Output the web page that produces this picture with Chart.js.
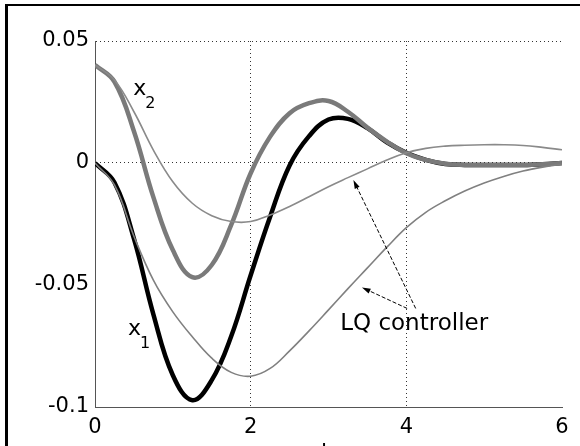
<!DOCTYPE html>
<html>
<head>
<meta charset="utf-8">
<script src="https://cdn.jsdelivr.net/npm/chart.js@4"></script>
<style>
  body { margin: 0; background: #fff; }
  #wrap { position: relative; width: 580px; height: 446px; }
  #frame { position: absolute; left: 5px; top: 4px; right: 0; bottom: 0;
           border-left: 3px solid #000; border-top: 2px solid #000; pointer-events: none; }
</style>
</head>
<body>
<div id="wrap">
  <canvas id="respChart"></canvas>
  <div id="frame"></div>
</div>
<script>
// time samples (s)
const timeSteps = [0, 0.25, 0.5, 0.75, 1, 1.25, 1.5, 1.75, 2, 2.25, 2.5, 2.75, 3,
                   3.25, 3.5, 3.75, 4, 4.25, 4.5, 4.75, 5, 5.25, 5.5, 5.75, 6];

// x1, thick black
const x1Values = [0, -0.008, -0.031, -0.062, -0.087, -0.0972, -0.089, -0.071, -0.046, -0.022,
                  -0.001, 0.011, 0.0178, 0.0181, 0.0143, 0.0085, 0.0042, 0.0013, -0.0004, -0.0008,
                  -0.0008, -0.0008, -0.0008, -0.0005, 0];
// x2, thick gray
const x2Values = [0.0402, 0.0333, 0.013, -0.014, -0.0357, -0.0468, -0.0418, -0.0254, -0.0042, 0.0108,
                  0.0204, 0.0245, 0.0254, 0.021, 0.0145, 0.0088, 0.004, 0.0013, -0.0003, -0.0008,
                  -0.0008, -0.0008, -0.0008, -0.0005, 0];
// LQ controller x1, thin gray
const lqX1Values = [0, -0.009, -0.030, -0.048, -0.061, -0.0712, -0.080, -0.0858, -0.0874, -0.0842,
                    -0.077, -0.0688, -0.0602, -0.0515, -0.043, -0.0345, -0.0265, -0.0202, -0.0155, -0.0115,
                    -0.0082, -0.0055, -0.0033, -0.0017, -0.0005];
// LQ controller x2, thin gray
const lqX2Values = [0.0402, 0.034, 0.021, 0.0053, -0.0077, -0.0165, -0.0216, -0.024, -0.024, -0.0213,
                    -0.0178, -0.0138, -0.0097, -0.006, -0.0024, 0.0012, 0.0042, 0.006, 0.0069, 0.0073,
                    0.0075, 0.0075, 0.0072, 0.0064, 0.0054];

const yTickLabels = { '-0.1': '-0.1', '-0.05': '-0.05', '0': '0', '0.05': '0.05' };
const xGridAt = [2, 4];
const yGridAt = [0, 0.05];

// annotation texts in data coordinates
const curveLabels = [
  { text: 'x', sub: '2', t: 0.49, v: 0.0279 },
  { text: 'x', sub: '1', t: 0.423, v: -0.0705 }
];
const noteText = { text: 'LQ controller', t: 3.15, v: -0.0684 };
const noteArrows = [
  { from: [4.12, -0.0596], to: [3.32, -0.007] },
  { from: [4.01, -0.0596], to: [3.43, -0.051] }
];
const axisTitle = { text: 't', t: 2.96 };

function toPoints(vals) {
  return timeSteps.map((t, i) => ({ x: t, y: vals[i] }));
}

function near(a, list) {
  return list.some(b => Math.abs(a - b) < 1e-9);
}

const FONT = '"DejaVu Sans", sans-serif';

const annotationsPlugin = {
  id: 'annotations',
  afterDatasetsDraw(chart) {
    const ctx = chart.ctx;
    const xs = chart.scales.x, ys = chart.scales.y;
    ctx.save();
    ctx.fillStyle = '#000';
    ctx.textBaseline = 'alphabetic';
    ctx.textAlign = 'left';

    curveLabels.forEach(l => {
      const px = xs.getPixelForValue(l.t), py = ys.getPixelForValue(l.v);
      ctx.font = '22px ' + FONT;
      ctx.fillText(l.text, px, py);
      ctx.font = '16px ' + FONT;
      ctx.fillText(l.sub, px + 12, py + 13);
    });

    ctx.font = '23px ' + FONT;
    ctx.fillText(noteText.text, xs.getPixelForValue(noteText.t), ys.getPixelForValue(noteText.v));

    ctx.strokeStyle = '#000';
    ctx.lineWidth = 1;
    noteArrows.forEach(a => {
      const x0 = xs.getPixelForValue(a.from[0]), y0 = ys.getPixelForValue(a.from[1]);
      const x1 = xs.getPixelForValue(a.to[0]), y1 = ys.getPixelForValue(a.to[1]);
      const ang = Math.atan2(y1 - y0, x1 - x0);
      ctx.setLineDash([4, 2]);
      ctx.beginPath();
      ctx.moveTo(x0, y0);
      ctx.lineTo(x1 - 6 * Math.cos(ang), y1 - 6 * Math.sin(ang));
      ctx.stroke();
      ctx.setLineDash([]);
      ctx.beginPath();
      ctx.moveTo(x1, y1);
      ctx.lineTo(x1 - 9 * Math.cos(ang - 0.3), y1 - 9 * Math.sin(ang - 0.3));
      ctx.lineTo(x1 - 9 * Math.cos(ang + 0.3), y1 - 9 * Math.sin(ang + 0.3));
      ctx.closePath();
      ctx.fill();
    });

    // cut-off axis title at the bottom edge
    ctx.font = '22px ' + FONT;
    ctx.textAlign = 'center';
    ctx.textBaseline = 'top';
    ctx.fillText(axisTitle.text, xs.getPixelForValue(axisTitle.t), 441);
    ctx.restore();
  }
};

new Chart(document.getElementById('respChart'), {
  type: 'line',
  data: {
    datasets: [
      { label: 'x1', data: toPoints(x1Values), borderColor: '#000', borderWidth: 4.5, order: 2 },
      { label: 'x2', data: toPoints(x2Values), borderColor: '#7a7a7a', borderWidth: 4.5, order: 1 },
      { label: 'LQ x1', data: toPoints(lqX1Values), borderColor: '#808080', borderWidth: 1.6, order: 0 },
      { label: 'LQ x2', data: toPoints(lqX2Values), borderColor: '#8a8a8a', borderWidth: 1.6, order: 0 }
    ]
  },
  options: {
    responsive: true,
    maintainAspectRatio: false,
    animation: false,
    elements: { point: { radius: 0 }, line: { tension: 0.4 } },
    layout: { padding: { top: 41, right: 18, left: 0, bottom: 0 } },
    plugins: { legend: { display: false }, tooltip: { enabled: false } },
    scales: {
      x: {
        type: 'linear', min: 0, max: 6,
        afterFit: s => { s.height = 39; },
        ticks: { stepSize: 2, color: '#000', padding: 8, font: { family: FONT, size: 21 }, maxRotation: 0 },
        border: { display: true, color: '#555', width: 1, dash: [1, 3] },
        grid: {
          drawTicks: false,
          color: c => near(c.tick.value, xGridAt) ? '#333' : 'rgba(0,0,0,0)'
        }
      },
      y: {
        min: -0.1, max: 0.05,
        afterFit: s => { s.width = 95; },
        ticks: {
          stepSize: 0.05, color: '#000', padding: 6, font: { family: FONT, size: 21 },
          callback: v => yTickLabels[String(Math.round(v * 100) / 100)]
        },
        border: { display: true, color: '#555', width: 1, dash: [1, 3] },
        grid: {
          drawTicks: false,
          color: c => near(c.tick.value, yGridAt) ? '#333' : 'rgba(0,0,0,0)'
        }
      }
    }
  },
  plugins: [annotationsPlugin]
});
</script>
</body>
</html>
